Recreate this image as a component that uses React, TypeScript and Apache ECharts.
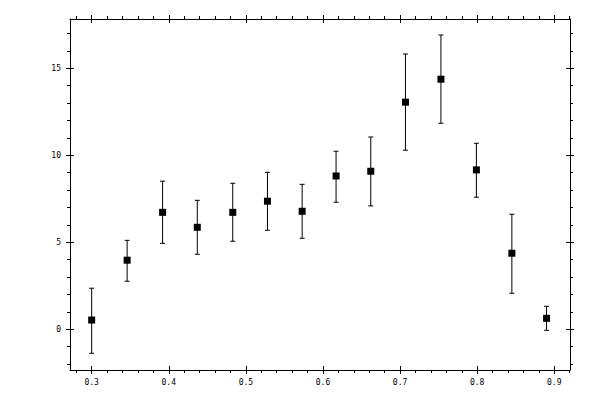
import React, { useEffect, useRef } from "react";
import * as echarts from "echarts";

// measured points and their error bar ends
const xValues = [0.3, 0.346, 0.392, 0.437, 0.483, 0.528, 0.573, 0.617, 0.662, 0.707, 0.753, 0.799, 0.845, 0.89];
const yValues = [0.53, 3.97, 6.72, 5.86, 6.72, 7.36, 6.78, 8.81, 9.08, 13.05, 14.37, 9.16, 4.37, 0.63];
const yLow = [-1.38, 2.76, 4.94, 4.31, 5.06, 5.69, 5.23, 7.3, 7.09, 10.29, 11.84, 7.59, 2.07, -0.06];
const yHigh = [2.36, 5.11, 8.51, 7.41, 8.39, 9.02, 8.33, 10.23, 11.05, 15.82, 16.91, 10.69, 6.61, 1.32];

const xTicks = [0.3, 0.4, 0.5, 0.6, 0.7, 0.8, 0.9];
const yTicks = [0, 5, 10, 15];
const xRange = [0.2719, 0.9204];
const yRange = [-2.34, 17.83];

const FONT = "DejaVu Sans Mono";

const makeX = (position: string, inside: boolean, labels: boolean) => ({
  type: "value",
  position,
  min: xRange[0],
  max: xRange[1],
  axisLine: { show: !inside, onZero: false, lineStyle: { color: "#000", width: 1 } },
  axisTick: {
    show: true,
    inside,
    length: 4,
    customValues: xTicks,
    lineStyle: { color: "#000", width: 1 },
  },
  minorTick: {
    show: !inside,
    splitNumber: 5,
    length: 3,
    lineStyle: { color: "#000", width: 1 },
  },
  axisLabel: {
    show: labels,
    customValues: xTicks,
    margin: 8,
    fontFamily: FONT,
    fontSize: 8,
    color: "#000",
    formatter: (v: number) => v.toFixed(1),
  },
  splitLine: { show: false },
});

const makeY = (position: string, inside: boolean, labels: boolean) => ({
  type: "value",
  position,
  min: yRange[0],
  max: yRange[1],
  axisLine: { show: !inside, onZero: false, lineStyle: { color: "#000", width: 1 } },
  axisTick: {
    show: true,
    inside,
    length: 4,
    customValues: yTicks,
    lineStyle: { color: "#000", width: 1 },
  },
  minorTick: {
    show: !inside,
    splitNumber: 5,
    length: 3,
    lineStyle: { color: "#000", width: 1 },
  },
  axisLabel: {
    show: labels,
    customValues: yTicks,
    margin: 9,
    fontFamily: FONT,
    fontSize: 8,
    color: "#000",
  },
  splitLine: { show: false },
});

const App: React.FC = () => {
  const chartRef = useRef<HTMLDivElement>(null);

  useEffect(() => {
    if (!chartRef.current) return;
    const chart = echarts.init(chartRef.current, undefined, { renderer: "svg" });

    const points = xValues.map((x, i) => [x, yValues[i]]);
    const bars = xValues.map((x, i) => [x, yLow[i], yHigh[i]]);

    chart.setOption({
      animation: false,
      backgroundColor: "#fff",
      grid: { left: 70, top: 19, right: 30, bottom: 30, containLabel: false },
      xAxis: [
        makeX("bottom", false, true),
        makeX("bottom", true, false),
        makeX("top", false, false),
        makeX("top", true, false),
      ],
      yAxis: [
        makeY("left", false, true),
        makeY("left", true, false),
        makeY("right", false, false),
        makeY("right", true, false),
      ],
      series: [
        {
          type: "custom",
          xAxisIndex: 0,
          yAxisIndex: 0,
          data: bars,
          renderItem: (params: any, api: any) => {
            const top = api.coord([api.value(0), api.value(2)]);
            const bottom = api.coord([api.value(0), api.value(1)]);
            const half = 2.5;
            const style = { stroke: "#000", lineWidth: 1 };
            return {
              type: "group",
              children: [
                { type: "line", shape: { x1: top[0], y1: top[1], x2: bottom[0], y2: bottom[1] }, style },
                { type: "line", shape: { x1: top[0] - half, y1: top[1], x2: top[0] + half, y2: top[1] }, style },
                { type: "line", shape: { x1: bottom[0] - half, y1: bottom[1], x2: bottom[0] + half, y2: bottom[1] }, style },
              ],
            };
          },
          z: 2,
        },
        {
          type: "scatter",
          xAxisIndex: 0,
          yAxisIndex: 0,
          data: points,
          symbol: "rect",
          symbolSize: 7,
          itemStyle: { color: "#000", opacity: 1 },
          z: 3,
        },
      ],
    });

    return () => {
      chart.dispose();
    };
  }, []);

  return (
    <div
      ref={chartRef}
      style={{ position: "absolute", left: 0, top: 0, width: 600, height: 400 }}
    />
  );
};

export default App;
